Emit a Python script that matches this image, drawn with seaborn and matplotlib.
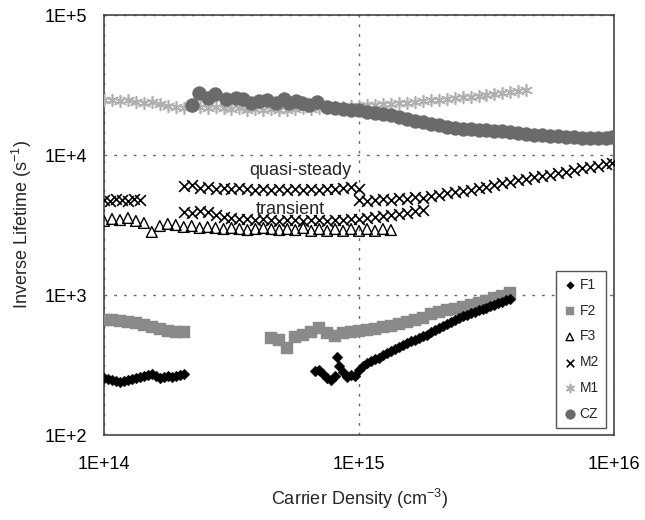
import matplotlib
matplotlib.use("Agg")
import matplotlib.pyplot as plt
import pandas as pd
import seaborn as sns
from matplotlib.ticker import FixedLocator, LogLocator, NullFormatter

# ---------------- data (x in units of 1e14 cm^-3, y in s^-1) ----------------
f1_x = [1.000, 1.037, 1.075, 1.114, 1.155, 1.197, 1.241, 1.286, 1.334, 1.382, 1.434,
        1.485, 1.540, 1.596, 1.655, 1.716, 1.778, 1.843, 1.911, 1.981, 2.054,
        6.732, 6.978, 7.235, 7.499, 7.775, 8.058, 8.205, 8.355, 8.660, 8.979, 9.306,
        9.647, 10.00, 10.37, 10.75, 11.14, 11.55, 11.97, 12.41, 12.87, 13.34, 13.83,
        14.34, 14.86, 15.40, 15.97, 16.55, 17.16, 17.78, 18.44, 19.11, 19.81, 20.54,
        21.29, 22.07, 22.88, 23.71, 24.59, 25.48, 26.42, 27.38, 28.39, 29.43, 30.51,
        31.62, 32.78, 33.98, 35.23, 36.52, 37.86, 39.24]
f1_y = [255, 251, 247, 243, 239, 243, 247, 251, 255, 260, 264,
        268, 273, 264, 255, 260, 264, 260, 264, 268, 273,
        287, 291, 273, 255, 247, 264, 361, 311, 282, 260, 268,
        264, 291, 311, 327, 338, 349, 355, 373, 385, 398, 412,
        425, 439, 454, 469, 477, 493, 509, 518, 544, 562, 581,
        601, 621, 641, 663, 685, 708, 720, 744, 757, 782, 794,
        808, 834, 849, 877, 891, 921, 936]

f2_x = [1.000, 1.075, 1.155, 1.241, 1.334, 1.434, 1.540, 1.655, 1.778, 1.911, 2.054,
        4.532, 4.870, 5.233, 5.623, 6.043, 6.494, 6.978, 7.499, 8.058, 8.660, 9.306,
        10.00, 10.75, 11.55, 12.41, 13.34, 14.34, 15.40, 16.55, 17.78, 19.11, 20.54,
        22.07, 23.71, 25.48, 27.38, 29.43, 31.62, 33.98, 36.52, 39.24]
f2_y = [663, 663, 652, 641, 631, 611, 591, 572, 553, 544, 544,
        493, 477, 418, 501, 518, 544, 581, 535, 509, 535, 544,
        553, 562, 572, 591, 601, 621, 641, 663, 685, 732, 757,
        782, 794, 821, 849, 877, 906, 952, 984, 1030]

f3_x = [1.000, 1.075, 1.155, 1.241, 1.334, 1.434, 1.540, 1.655, 1.778, 1.911, 2.054,
        2.207, 2.371, 2.548, 2.738, 2.943, 3.162, 3.398, 3.652, 3.924, 4.217, 4.532,
        4.870, 5.233, 5.623, 6.043, 6.494, 6.978, 7.499, 8.058, 8.660, 9.306, 10.00,
        10.75, 11.55, 12.41, 13.34]
f3_y = [3380, 3490, 3430, 3550, 3380, 3270, 2820, 3110, 3220, 3160, 3060,
        3110, 3010, 3060, 3010, 2960, 3010, 2960, 2910, 2960, 3010, 2960,
        2910, 2960, 2910, 3010, 2870, 2960, 2870, 2960, 2870, 2960, 2870,
        2960, 2870, 2960, 2910]

m2_x = [1.000, 1.055, 1.114, 1.176, 1.241, 1.310, 1.382,
        2.054, 2.207, 2.371, 2.548, 2.738, 2.943, 3.162, 3.398, 3.652, 3.924, 4.217,
        4.532, 4.870, 5.233, 5.623, 6.043, 6.494, 6.978, 7.499, 8.058, 8.660, 9.306,
        10.00,
        10.00, 10.75, 11.55, 12.41, 13.34, 14.34, 15.40, 16.55, 17.78, 19.11, 20.54,
        22.07, 23.71, 25.48, 27.38, 29.43, 31.62, 33.98, 36.52, 39.24, 42.17, 45.32,
        48.70, 52.33, 56.23, 60.43, 64.94, 69.78, 74.99, 80.58, 86.60, 93.06, 98.2,
        2.054, 2.207, 2.371, 2.548, 2.738, 2.943, 3.162, 3.398, 3.652, 3.924, 4.217,
        4.532, 4.870, 5.233, 5.623, 6.043, 6.494, 6.978, 7.499, 8.058, 8.660, 9.306,
        10.00, 10.75, 11.55, 12.41, 13.34, 14.34, 15.40, 16.55, 17.78]
m2_y = [4770, 4690, 4850, 4770, 4690, 4850, 4770,
        6000, 6110, 5810, 5910, 5720, 5810, 5720, 5810, 5720, 5620, 5720,
        5620, 5720, 5620, 5720, 5620, 5720, 5620, 5720, 5720, 5810, 5910,
        5720,
        4770, 4690, 4770, 4850, 4770, 4930, 4850, 5010, 4930, 5100, 5180,
        5350, 5440, 5530, 5620, 5810, 5910, 6110, 6310, 6415, 6630, 6740,
        6960, 7080, 7200, 7430, 7560, 7815, 8075, 8210, 8345, 8625, 8770,
        3920, 3850, 3980, 3920, 3730, 3610, 3550, 3490, 3490, 3430, 3490,
        3430, 3380, 3430, 3430, 3380, 3430, 3430, 3380, 3430, 3430, 3490,
        3490, 3550, 3610, 3670, 3730, 3790, 3850, 3980, 4050]

m1_x = [1.000, 1.075, 1.155, 1.241, 1.334, 1.434, 1.540, 1.655, 1.778, 1.911, 2.054,
        2.207, 2.371, 2.548, 2.738, 2.943, 3.162, 3.398, 3.652, 3.924, 4.217, 4.532,
        4.870, 5.233, 5.623, 6.043, 6.494, 6.978, 7.499, 8.058, 8.660, 9.306, 10.00,
        10.75, 11.55, 12.41, 13.34, 14.34, 15.40, 16.55, 17.78, 19.11, 20.54, 22.07,
        23.71, 25.48, 27.38, 29.43, 31.62, 33.98, 36.52, 39.24, 42.17, 45.32]
m1_y = [24720, 24720, 24310, 24720, 23920, 23530, 23920, 23150, 22390, 22030, 21670,
        22390, 22030, 21670, 22030, 21670, 21310, 21670, 20970, 21310, 20970, 21310,
        20970, 20970, 21310, 21670, 21310, 21670, 21670, 22030, 22030, 22390, 22390,
        22760, 22760, 23150, 23150, 23530, 23530, 23920, 24310, 24720, 24720, 25120,
        25540, 25960, 25960, 26390, 26830, 27270, 27730, 28180, 28650, 29130]

cz_x = [2.207, 2.350, 2.548, 2.714, 2.997, 3.307, 3.523, 3.786, 4.068, 4.371, 4.741,
        5.093, 5.330, 5.675, 5.990, 6.378, 6.854,
        7.499, 8.058, 8.660, 9.306, 10.00, 10.75, 11.55, 12.41, 13.34, 14.34, 15.40,
        16.55, 17.78, 19.11, 20.54, 22.07, 23.71, 25.48, 27.38, 29.43, 31.62, 33.98,
        36.52, 39.24, 42.17, 45.32, 48.70, 52.33, 56.23, 60.43, 64.94, 69.78, 74.99,
        80.58, 86.60, 93.06, 98.2]
cz_y = [22760, 27730, 25540, 27270, 25120, 25540, 25120, 23530, 24310, 24720, 23530,
        25120, 23530, 24310, 23530, 22760, 23920,
        22030, 21670, 21310, 20970, 20970, 20290, 19950, 19630, 19310, 18680, 18080,
        17500, 17210, 16660, 16380, 15850, 15600, 15340, 15340, 15090, 15090, 14840,
        14840, 14600, 14370, 14130, 13900, 13900, 13680, 13680, 13450, 13450, 13230,
        13230, 13230, 13230, 13450]

series_names = ["F1", "F2", "F3", "M2", "M1", "CZ"]
x_ticks = [1e14, 1e15, 1e16]
x_tick_labels = ["1E+14", "1E+15", "1E+16"]
y_ticks = [1e2, 1e3, 1e4, 1e5]
y_tick_labels = ["1E+2", "1E+3", "1E+4", "1E+5"]

X_UNIT = 1e14


def frame(xs, ys):
    return pd.DataFrame({"x": [v * X_UNIT for v in xs], "y": ys})


# ---------------- figure ----------------
sns.set_style("white")
plt.rcParams["font.family"] = ["Liberation Sans", "DejaVu Sans"]
plt.rcParams["mathtext.fontset"] = "custom"
plt.rcParams["mathtext.rm"] = "Liberation Sans"

fig = plt.figure(figsize=(6.45, 5.2), dpi=100)
ax = fig.add_axes([104 / 645, 1 - 435 / 520, 510 / 645, 420 / 520])
ax.set_xscale("log")
ax.set_yscale("log")

styles = {
    "M1": dict(marker=(6, 2, 0), s=70, color="#b0b0b0", linewidth=1.2),
    "CZ": dict(marker="o", s=100, color="#6a6a6a", edgecolor="#6a6a6a", linewidth=0.3),
    "F3": dict(marker="^", s=60, color="black", linewidth=1.0),
    "M2": dict(marker="x", s=60, color="black", linewidth=1.2),
    "F2": dict(marker="s", s=75, color="#8a8a8a", edgecolor="#8a8a8a", linewidth=0.3),
    "F1": dict(marker="D", s=30, color="black", edgecolor="black", linewidth=0.3),
}
data = {
    "F1": (f1_x, f1_y), "F2": (f2_x, f2_y), "F3": (f3_x, f3_y),
    "M2": (m2_x, m2_y), "M1": (m1_x, m1_y), "CZ": (cz_x, cz_y),
}

handles = {}
for name in ["M1", "CZ", "F3", "M2", "F2", "F1"]:
    xs, ys = data[name]
    sns.scatterplot(data=frame(xs, ys), x="x", y="y", ax=ax, label=name,
                    legend=False, zorder=3, **styles[name])
    coll = ax.collections[-1]
    if name == "F3":
        coll.set_facecolor("none")
        coll.set_edgecolor("black")
    handles[name] = coll

ax.set_xlim(1e14, 1e16)
ax.set_ylim(1e2, 1e5)
ax.xaxis.set_major_locator(FixedLocator(x_ticks))
ax.set_xticklabels(x_tick_labels)
ax.yaxis.set_major_locator(FixedLocator(y_ticks))
ax.set_yticklabels(y_tick_labels)
ax.xaxis.set_minor_locator(LogLocator(base=10, subs=range(2, 10)))
ax.yaxis.set_minor_locator(LogLocator(base=10, subs=range(2, 10)))
ax.xaxis.set_minor_formatter(NullFormatter())
ax.yaxis.set_minor_formatter(NullFormatter())
ax.tick_params(which="major", direction="in", length=6, width=0.8, colors="#333333",
               labelsize=13, labelcolor="black")
ax.tick_params(which="minor", direction="in", length=3.5, width=0.7, colors="#555555")
ax.tick_params(axis="x", which="major", pad=15)
ax.tick_params(axis="y", which="major", pad=12)

ax.set_axisbelow(True)
ax.grid(True, which="major", linestyle=(0, (2, 5)), color="#666666", linewidth=1.0)
ax.grid(False, which="minor")
for sp in ax.spines.values():
    sp.set_visible(True)
    sp.set_color("#444444")
    sp.set_linewidth(1.2)

ax.set_xlabel(r"Carrier Density (cm$^{\mathregular{-3}}$)", fontsize=13, labelpad=10)
ax.set_ylabel(r"Inverse Lifetime (s$^{\mathregular{-1}}$)", fontsize=13, labelpad=8)

ax.text(5.9e14, 7700, "quasi-steady", fontsize=13, ha="center", va="center", zorder=5)
ax.text(5.4e14, 4080, "transient", fontsize=13, ha="center", va="center", zorder=5)

leg = ax.legend([handles[n] for n in series_names], series_names,
                loc="lower right", bbox_to_anchor=(0.984, 0.017), fontsize=10,
                labelspacing=0.85, handletextpad=0.2, handlelength=1.0,
                borderpad=0.5, borderaxespad=0, frameon=True, fancybox=False,
                framealpha=1, markerscale=0.7)
leg.get_frame().set_edgecolor("#555555")
leg.get_frame().set_linewidth(1.0)

fig.savefig("out.png", dpi=100)
